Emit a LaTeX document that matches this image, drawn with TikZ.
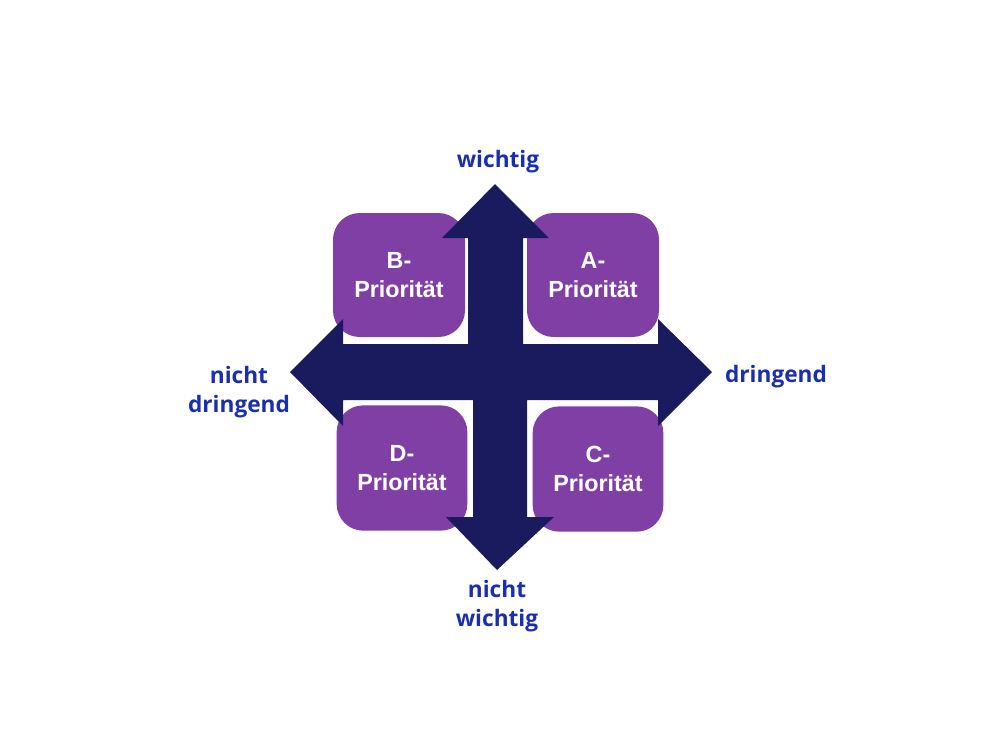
\documentclass[tikz,border=0pt]{standalone}
\usepackage{fontspec}
\setmainfont{Liberation Sans}
\newfontfamily\labelfont{Open Sans}
\definecolor{boxpurple}{RGB}{127,63,165}
\definecolor{arrownavy}{RGB}{26,27,95}
\definecolor{labelblue}{RGB}{26,46,176}
\begin{document}
\begin{tikzpicture}[x=0.75pt, y=-0.75pt, line join=round,
	prio/.style={fill=boxpurple, rounded corners=20pt, text=white, align=center,
		font=\bfseries\fontsize{17.5}{21.5}\selectfont, inner sep=0pt},
	axislabel/.style={text=labelblue, align=center,
		font=\labelfont\bfseries\fontsize{17}{22}\selectfont, inner sep=0pt}]
	\useasboundingbox (0,0) rectangle (992,744);
	% Felder
	\node[prio, minimum width=99pt, minimum height=93pt] (A) at (593,275) {A-\\Priorität};
	\node[prio, minimum width=99pt, minimum height=93pt] (B) at (399,275) {B-\\Priorität};
	\node[prio, minimum width=98pt, minimum height=94pt] (C) at (598,469) {C-\\Priorität};
	\node[prio, minimum width=98pt, minimum height=94pt] (D) at (402,468) {D-\\Priorität};
	% Achsenkreuz
	\fill[arrownavy] (495,184)--(549,238)--(523,238)--(523,344)--(658,344)--(658,319)
	--(712,372)--(658,426)--(658,400)--(527,400)--(527,517)--(554,517)--(497,570)
	--(446,517)--(473,517)--(473,400)--(343,400)--(343,426)--(290,372)--(343,319)
	--(343,344)--(468,344)--(468,238)--(442,238)--cycle;
	% Beschriftung
	\node[axislabel] (oben) at (498,162) {wichtig};
	\node[axislabel] (rechts) at (776,377) {dringend};
	\node[axislabel] (links) at (239,392) {nicht\\dringend};
	\node[axislabel] (unten) at (497,606) {nicht\\wichtig};
\end{tikzpicture}
\end{document}
